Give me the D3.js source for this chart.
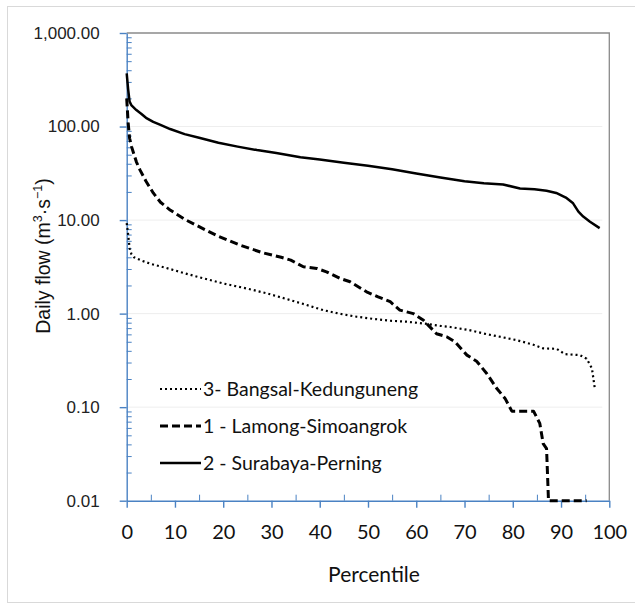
<!DOCTYPE html>
<html>
<head>
<meta charset="utf-8">
<script src="https://cdn.jsdelivr.net/npm/d3@7"></script>
<style>
  body { margin: 0; background: #fff; }
  svg { display: block; }
</style>
</head>
<body>
<svg id="chart" width="635" height="605"></svg>
<script>
// flow duration curves
const bangsalPct = [0, 0.3, 0.6, 1, 1.5, 3, 5, 8, 12, 15, 20, 25, 29, 33.8, 37, 40.7, 44, 47.7, 51, 54.6, 58, 61.5, 65, 67, 71, 73.9, 77, 80.8, 84, 86.3, 89.1, 90.8, 93.9, 95.3, 96.4, 97];
const bangsalFlow = [9.3, 7, 5, 4.3, 4.0, 3.7, 3.4, 3.1, 2.7, 2.45, 2.1, 1.85, 1.65, 1.4, 1.25, 1.09, 1.0, 0.925, 0.88, 0.84, 0.82, 0.785, 0.74, 0.72, 0.666, 0.614, 0.57, 0.52, 0.47, 0.425, 0.42, 0.369, 0.36, 0.33, 0.26, 0.158];

const lamongPct = [0, 0.3, 0.6, 1, 2, 2.8, 4, 5.5, 7, 9, 12, 15, 19, 23.5, 28, 32, 34, 36.6, 39.4, 41.4, 44.2, 46.3, 49.7, 52.1, 54.6, 56.6, 59.4, 61.5, 64.2, 66.3, 68, 70.5, 72.5, 74.6, 76.7, 78.4, 79.8, 84.3, 85.6, 86.3, 87, 87.4, 95.3];
const lamongFlow = [200, 110, 75, 61, 42, 34, 26, 19.5, 15.5, 12.8, 10.2, 8.5, 6.7, 5.4, 4.5, 4.0, 3.73, 3.17, 3.04, 2.8, 2.38, 2.19, 1.71, 1.51, 1.34, 1.09, 1.0, 0.85, 0.61, 0.565, 0.5, 0.36, 0.31, 0.229, 0.158, 0.124, 0.0906, 0.0906, 0.067, 0.0407, 0.036, 0.01, 0.01];

const surabayaPct = [0, 0.3, 0.6, 1, 2, 3, 4, 5.5, 7, 9, 12, 15, 19, 23, 27, 31, 36, 40, 45, 50, 55, 60, 65, 70, 74, 78, 81.5, 84.5, 87, 89, 91, 92.5, 93.6, 94.6, 96, 98];
const surabayaFlow = [370, 250, 185, 168, 150, 137, 124, 112, 104, 94, 83, 76, 67, 61, 56, 52, 47, 44.5, 41, 38, 35, 31.5, 28.5, 26, 24.8, 24, 21.8, 21.3, 20.6, 19.5, 17.4, 15.1, 12.3, 10.9, 9.6, 8.2];

const legendNames = ["3- Bangsal-Kedunguneng", "1 - Lamong-Simoangrok", "2 - Surabaya-Perning"];
const xTicks = [0, 10, 20, 30, 40, 50, 60, 70, 80, 90, 100];
const yTicks = [0.01, 0.1, 1, 10, 100, 1000];

const series = [
  {name: legendNames[0], pct: bangsalPct, flow: bangsalFlow, width: 2.2, dash: "2,3"},
  {name: legendNames[1], pct: lamongPct, flow: lamongFlow, width: 3, dash: "8,4"},
  {name: legendNames[2], pct: surabayaPct, flow: surabayaFlow, width: 2.5, dash: null}
];

const plot = {left: 126.7, right: 609.3, top: 33, bottom: 500.7};
const axisBlue = "#4a82c3";

const svg = d3.select("#chart");

// outer frame
svg.append("rect")
  .attr("x", 7.5).attr("y", 6.5)
  .attr("width", 640).attr("height", 596)
  .attr("fill", "#fff").attr("stroke", "#d9d9d9");

const x = d3.scaleLinear().domain([0, 100]).range([plot.left, plot.right]);
const y = d3.scaleLog().domain([0.01, 1000]).range([plot.bottom, plot.top]);

// faint grid lines
svg.append("g")
  .selectAll("line")
  .data(yTicks.slice(1, -1))
  .join("line")
  .attr("x1", plot.left).attr("x2", plot.right - 7)
  .attr("y1", d => y(d)).attr("y2", d => y(d))
  .attr("stroke", "#eeeeee").attr("stroke-width", 1);

// top and right border
svg.append("path")
  .attr("d", `M${plot.left},${plot.top}H${plot.right}V${plot.bottom}`)
  .attr("fill", "none").attr("stroke", "#8a8a8a").attr("stroke-width", 1.3);

// minor ticks
const minorY = [];
yTicks.slice(0, -1).forEach(d => { for (let k = 2; k < 10; k++) minorY.push(d * k); });
svg.append("g")
  .attr("transform", `translate(${plot.left},0)`)
  .call(d3.axisRight(y).tickValues(minorY).tickSize(5).tickFormat(""))
  .call(g => g.select(".domain").remove())
  .selectAll("line").attr("stroke", axisBlue);

svg.append("g")
  .attr("transform", `translate(0,${plot.bottom})`)
  .call(d3.axisTop(x).tickValues(d3.range(5, 100, 10)).tickSize(6).tickFormat(""))
  .call(g => g.select(".domain").remove())
  .selectAll("line").attr("stroke", axisBlue);

// main axes
const yAxis = svg.append("g")
  .attr("transform", `translate(${plot.left},0)`)
  .call(d3.axisLeft(y).tickValues(yTicks).tickSize(7).tickSizeOuter(0).tickPadding(20).tickFormat(d3.format(",.2f")));
yAxis.selectAll("line, path").attr("stroke", axisBlue).attr("stroke-width", 1.4);
yAxis.selectAll("text")
  .attr("font-family", "'Liberation Sans', Arial, sans-serif")
  .attr("font-size", 17).attr("fill", "#222");

const xAxis = svg.append("g")
  .attr("transform", `translate(0,${plot.bottom})`)
  .call(d3.axisBottom(x).tickValues(xTicks).tickSize(7).tickSizeOuter(0).tickPadding(17));
xAxis.selectAll("line, path").attr("stroke", axisBlue).attr("stroke-width", 1.4);
xAxis.selectAll("text")
  .attr("font-family", "Lato, sans-serif")
  .attr("font-size", 20).attr("fill", "#111");

// curves
const line = d3.line().x(d => x(d[0])).y(d => y(d[1]));
svg.append("g")
  .selectAll("path")
  .data(series)
  .join("path")
  .attr("d", s => line(s.pct.map((p, i) => [p, s.flow[i]])))
  .attr("fill", "none")
  .attr("stroke", "#000")
  .attr("stroke-width", s => s.width)
  .attr("stroke-dasharray", s => s.dash)
  .attr("stroke-linejoin", "round");

// legend
const legend = svg.append("g")
  .selectAll("g")
  .data(series)
  .join("g")
  .attr("transform", (s, i) => `translate(160,${389 + i * 37})`);
legend.append("line")
  .attr("x1", 0).attr("x2", 41)
  .attr("stroke", "#000")
  .attr("stroke-width", s => s.width)
  .attr("stroke-dasharray", s => s.dash);
legend.append("text")
  .attr("x", 43).attr("dy", "0.35em")
  .attr("font-family", "Lato, sans-serif")
  .attr("font-size", 19.5).attr("fill", "#111")
  .text(s => s.name);

// axis titles
svg.append("text")
  .attr("x", 374).attr("y", 582)
  .attr("text-anchor", "middle")
  .attr("font-family", "Lato, sans-serif")
  .attr("font-size", 21).attr("fill", "#111")
  .text("Percentile");

const yTitle = svg.append("text")
  .attr("transform", "translate(50,256) rotate(-90)")
  .attr("text-anchor", "middle")
  .attr("font-family", "'Liberation Sans', Arial, sans-serif")
  .attr("font-size", 19.5).attr("fill", "#111");
yTitle.append("tspan").text("Daily flow (m");
yTitle.append("tspan").attr("font-size", 12.5).attr("dy", -8).text("3");
yTitle.append("tspan").attr("dy", 8).text("·s");
yTitle.append("tspan").attr("font-size", 12.5).attr("dy", -8).text("−1");
yTitle.append("tspan").attr("dy", 8).text(")");
</script>
</body>
</html>
